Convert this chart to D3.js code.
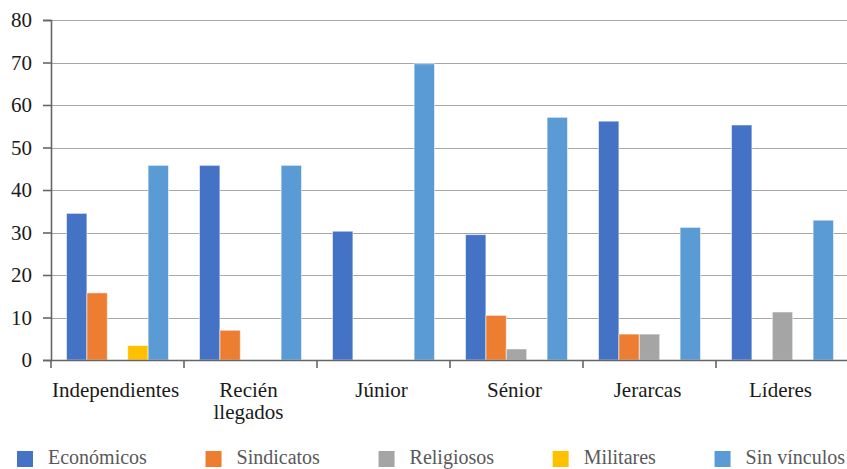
<!DOCTYPE html>
<html>
<head>
<meta charset="utf-8">
<script src="https://cdn.jsdelivr.net/npm/d3@7/dist/d3.min.js"></script>
</head>
<body style="margin:0;background:#fff">
<svg id="chart" width="847" height="469" style="display:block"></svg>
<script>
// Categorías de la trayectoria
const categories = ["Independientes", "Recién\nllegados", "Júnior", "Sénior", "Jerarcas", "Líderes"];
// Series (porcentajes)
const seriesNames = ["Económicos", "Sindicatos", "Religiosos", "Militares", "Sin vínculos"];
const economicos  = [34.5, 45.8, 30.3, 29.5, 56.2, 55.3];
const sindicatos  = [15.8, 7.0, 0, 10.5, 6.1, 0];
const religiosos  = [0, 0, 0, 2.6, 6.1, 11.3];
const militares   = [3.4, 0, 0, 0, 0, 0];
const sinVinculos = [45.8, 45.8, 69.7, 57.1, 31.2, 32.9];
const yTicks = [0, 10, 20, 30, 40, 50, 60, 70, 80];

const colors = ["#4472C4", "#ED7D31", "#A5A5A5", "#FFC000", "#5B9BD5"];
const seriesValues = [economicos, sindicatos, religiosos, militares, sinVinculos];
const FONT = '"Liberation Serif"';

const svg = d3.select("#chart");
const margin = { left: 51, right: -2, top: 20, bottom: 109 };
const W = 847, H = 469;
const plotBottom = H - margin.bottom; // 360

const x0 = d3.scaleBand().domain(categories).range([margin.left, W - margin.right]).paddingInner(0).paddingOuter(0);
const x1 = d3.scaleBand().domain(seriesNames).range([0, x0.bandwidth()]).paddingInner(0).paddingOuter(0.76);
const y = d3.scaleLinear().domain([0, 80]).range([plotBottom, margin.top]);

// Líneas de cuadrícula
svg.append("g")
  .selectAll("line")
  .data(yTicks.filter(d => d > 0))
  .join("line")
  .attr("x1", margin.left).attr("x2", W)
  .attr("y1", d => Math.round(y(d)) + 0.5).attr("y2", d => Math.round(y(d)) + 0.5)
  .attr("stroke", "#a6a6a6").attr("stroke-width", 1.2);

// Barras
const groups = svg.append("g")
  .selectAll("g")
  .data(categories)
  .join("g")
  .attr("transform", d => `translate(${x0(d)},0)`);

groups.selectAll("rect")
  .data((c, i) => seriesNames.map((s, k) => ({ s, k, v: seriesValues[k][i] })).filter(d => d.v > 0))
  .join("rect")
  .attr("x", d => x1(d.s))
  .attr("width", x1.bandwidth())
  .attr("y", d => y(d.v))
  .attr("height", d => y(0) - y(d.v))
  .attr("fill", d => colors[d.k])
  .attr("stroke", "rgba(255,255,255,0.55)")
  .attr("stroke-width", 1);

// Eje Y
const yAxis = d3.axisLeft(y).tickValues(yTicks).tickSize(8).tickPadding(11).tickFormat(d3.format("d"));
const gy = svg.append("g").attr("transform", `translate(${margin.left},0)`).call(yAxis)
  .attr("font-family", null).attr("font-size", null);
gy.select(".domain").attr("stroke", "#666").attr("stroke-width", 1.6);
gy.selectAll(".tick line").attr("stroke", "#666").attr("stroke-width", 1.6);
gy.selectAll(".tick text")
  .style("font-family", FONT)
  .style("font-size", "21px").attr("fill", "#1a1a1a");

// Eje X con marcas en los límites de las categorías
const gx = svg.append("g").attr("transform", `translate(0,${plotBottom})`);
gx.append("line")
  .attr("x1", margin.left).attr("x2", W)
  .attr("y1", 0.5).attr("y2", 0.5)
  .attr("stroke", "#666").attr("stroke-width", 1.6);
const boundaries = categories.map(c => x0(c)).concat([x0.range()[1]]);
gx.selectAll("line.tk")
  .data(boundaries)
  .join("line")
  .attr("class", "tk")
  .attr("x1", d => d).attr("x2", d => d)
  .attr("y1", 0).attr("y2", 8)
  .attr("stroke", "#666").attr("stroke-width", 1.6);

const labels = gx.selectAll("text.cat")
  .data(categories)
  .join("text")
  .attr("class", "cat")
  .attr("text-anchor", "middle")
  .style("font-family", FONT)
  .style("font-size", "21px")
  .attr("fill", "#1a1a1a")
  .attr("x", d => x0(d) + x0.bandwidth() / 2 - 2)
  .attr("y", 37);
labels.selectAll("tspan")
  .data(d => d.split("\n"))
  .join("tspan")
  .attr("x", function () { return this.parentNode.getAttribute("x"); })
  .attr("dy", (d, i) => i === 0 ? 0 : 22)
  .text(d => d);

// Leyenda: los elementos se reparten a lo ancho entre x = 17 y x = 845
const legendLeft = 17, legendRight = 845, swatch = 16, textGap = 15;
const legend = svg.append("g").attr("transform", `translate(0,451)`);
const items = seriesNames.map((name, k) => {
  const item = legend.append("g");
  item.append("rect").attr("width", swatch).attr("height", swatch).attr("fill", colors[k]);
  const t = item.append("text")
    .attr("x", swatch + textGap).attr("y", 13)
    .style("font-family", FONT)
    .style("font-size", "20px").attr("fill", "#595959")
    .text(name);
  return { item, w: swatch + textGap + t.node().getComputedTextLength() };
});
const totalW = d3.sum(items, d => d.w);
const spacing = (legendRight - legendLeft - totalW) / (items.length - 1);
let lx = legendLeft;
items.forEach(d => {
  d.item.attr("transform", `translate(${lx},0)`);
  lx += d.w + spacing;
});
</script>
</body>
</html>
